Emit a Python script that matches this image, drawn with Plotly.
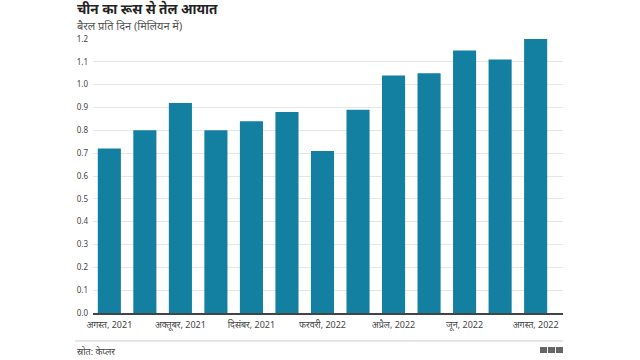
import plotly.graph_objects as go

months = ["अगस्त, 2021", "सितंबर, 2021", "अक्तूबर, 2021", "नवंबर, 2021", "दिसंबर, 2021",
          "जनवरी, 2022", "फरवरी, 2022", "मार्च, 2022", "अप्रैल, 2022", "मई, 2022",
          "जून, 2022", "जुलाई, 2022", "अगस्त, 2022"]
imports = [0.72, 0.80, 0.92, 0.80, 0.84, 0.88, 0.71, 0.89, 1.04, 1.05, 1.15, 1.11, 1.20]
tick_labels = months[::2]
y_ticks = [round(i * 0.1, 1) for i in range(13)]

FONT = "Noto Sans, Noto Sans Devanagari, DejaVu Sans, sans-serif"

fig = go.Figure(go.Bar(x=months, y=imports, marker_color="#1380A1",
                       marker_line_width=0, width=0.65))

fig.update_layout(
    width=640, height=360,
    margin=dict(l=93, r=77, t=39, b=47),
    paper_bgcolor="white", plot_bgcolor="white",
    font=dict(family=FONT, size=9, color="#333333"),
    showlegend=False,
    xaxis=dict(range=[-0.46, 12.77], tickmode="array", tickvals=tick_labels,
               ticktext=tick_labels, showline=True, linecolor="#444444",
               linewidth=1.5, showgrid=False, ticks="", ticklabelstandoff=2,
               tickfont=dict(size=9, color="#444444")),
    yaxis=dict(range=[0, 1.2], tickmode="array", tickvals=y_ticks,
               ticktext=[f"{v:.1f}" for v in y_ticks], showgrid=True,
               gridcolor="#e6e6e6", zeroline=False, ticks="", ticklabelstandoff=4,
               tickfont=dict(size=8, color="#444444")),
)

fig.add_annotation(text="<b>चीन का रूस से तेल आयात</b>", xref="paper", yref="paper",
                   x=-0.038, y=1.0, xanchor="left", yanchor="middle",
                   yshift=30, showarrow=False, font=dict(size=13.5, color="#222222"))
fig.add_annotation(text="बैरल प्रति दिन (मिलियन में)", xref="paper", yref="paper",
                   x=-0.038, y=1.0, xanchor="left", yanchor="middle",
                   yshift=14, showarrow=False, font=dict(size=11, color="#555555"))
fig.add_shape(type="line", xref="paper", yref="paper", x0=-0.038, x1=1.0,
              y0=-0.102, y1=-0.102, line=dict(color="#cccccc", width=1))
fig.add_annotation(text="स्रोत: केप्लर", xref="paper", yref="paper",
                   x=-0.038, y=-0.142, xanchor="left", yanchor="middle",
                   showarrow=False, font=dict(size=9, color="#444444"))
for i, letter in enumerate("BBC"):
    x0 = 0.951 + i * 0.017
    fig.add_shape(type="rect", xref="paper", yref="paper", x0=x0, x1=x0 + 0.015,
                  y0=-0.146, y1=-0.124, fillcolor="#666666", line_width=0)
    fig.add_annotation(text=f"<b>{letter}</b>", xref="paper", yref="paper",
                       x=x0 + 0.0075, y=-0.135, showarrow=False,
                       font=dict(size=6, color="white", family="Arial"))

fig.write_html("out.html", config={"displayModeBar": False},
               post_script="document.body.style.margin='0';")
